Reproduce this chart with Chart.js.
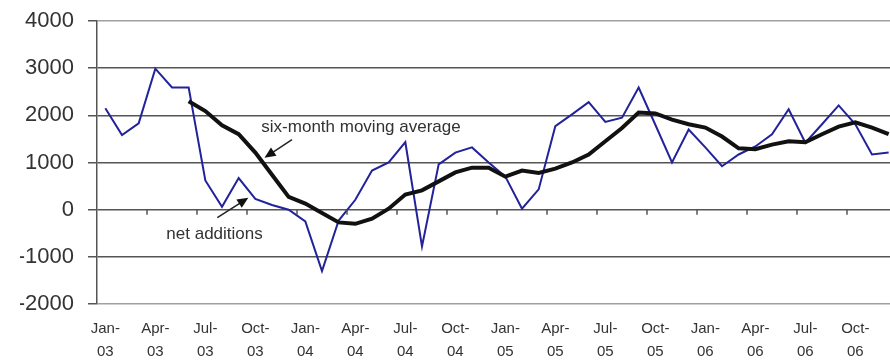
<!DOCTYPE html>
<html>
<head>
<meta charset="utf-8">
<script src="https://cdn.jsdelivr.net/npm/chart.js@4/dist/chart.umd.min.js"></script>
<style>
  html, body { margin: 0; padding: 0; background: #fff; overflow: hidden; }
  #wrap { position: absolute; left: 0; top: 0; width: 898px; height: 362px; }
</style>
</head>
<body>
<div id="wrap"><canvas id="myChart"></canvas></div>
<script>
// months on the category axis
const months = [
  'Jan-03','Feb-03','Mar-03','Apr-03','May-03','Jun-03','Jul-03','Aug-03','Sep-03','Oct-03','Nov-03','Dec-03',
  'Jan-04','Feb-04','Mar-04','Apr-04','May-04','Jun-04','Jul-04','Aug-04','Sep-04','Oct-04','Nov-04','Dec-04',
  'Jan-05','Feb-05','Mar-05','Apr-05','May-05','Jun-05','Jul-05','Aug-05','Sep-05','Oct-05','Nov-05','Dec-05',
  'Jan-06','Feb-06','Mar-06','Apr-06','May-06','Jun-06','Jul-06','Aug-06','Sep-06','Oct-06','Nov-06','Dec-06'
];

// monthly net additions
const netAdditions = [
  2150, 1580, 1830, 2990, 2590, 2590, 620, 60, 670, 230, 100, 0,
  -250, -1300, -230, 210, 830, 1000, 1430, -780, 960, 1210, 1320, 1000,
  700, 20, 430, 1770, 2020, 2280, 1860, 1950, 2590, 1800, 1000, 1700,
  1320, 920, 1170, 1340, 1600, 2130, 1420, 1810, 2210, 1810, 1170, 1210
];

// six-month moving average (starts in June 2003)
const movingAvg = [
  null, null, null, null, null, 2300, 2090, 1790, 1600, 1210, 740, 270,
  130, -70, -270, -300, -190, 20, 320, 410, 600, 790, 890, 890,
  700, 830, 780, 870, 1000, 1170, 1450, 1730, 2060, 2040, 1910, 1810,
  1740, 1550, 1300, 1280, 1380, 1450, 1430, 1600, 1760, 1850, 1740, 1600
];

const yTicks = [-2000, -1000, 0, 1000, 2000, 3000, 4000];

// callout texts and arrows, placed in data units (category index, value)
const callouts = [
  { text: 'six-month moving average', x: 9.36, y: 1745, from: [11.2, 1484], to: [9.55, 1102] },
  { text: 'net additions', x: 3.66, y: -530, from: [6.72, -170], to: [8.58, 254] }
];

const FONT = "'Liberation Sans', Arial, sans-serif";

// small tick marks on the zero line, one every quarter
const zeroTicks = {
  id: 'zeroTicks',
  afterDraw(chart) {
    const ctx = chart.ctx;
    const x = chart.scales.x;
    const y0 = chart.scales.y.getPixelForValue(0);
    const half = (x.getPixelForValue(1) - x.getPixelForValue(0)) / 2;
    ctx.save();
    ctx.strokeStyle = '#555';
    ctx.lineWidth = 1.5;
    for (let k = 3; k < months.length; k += 3) {
      const px = x.getPixelForValue(k) - half;
      ctx.beginPath();
      ctx.moveTo(px, y0);
      ctx.lineTo(px, y0 + 5);
      ctx.stroke();
    }
    ctx.restore();
  }
};

// text labels with arrows pointing at the lines
const calloutPlugin = {
  id: 'callouts',
  afterDatasetsDraw(chart) {
    const ctx = chart.ctx;
    const sx = chart.scales.x, sy = chart.scales.y;
    ctx.save();
    ctx.font = '17px ' + FONT;
    ctx.textBaseline = 'middle';
    for (const c of callouts) {
      ctx.fillStyle = '#333';
      ctx.fillText(c.text, sx.getPixelForValue(c.x), sy.getPixelForValue(c.y));
      const x1 = sx.getPixelForValue(c.from[0]), y1 = sy.getPixelForValue(c.from[1]);
      const x2 = sx.getPixelForValue(c.to[0]), y2 = sy.getPixelForValue(c.to[1]);
      const a = Math.atan2(y2 - y1, x2 - x1);
      ctx.strokeStyle = '#222';
      ctx.lineWidth = 1.5;
      ctx.beginPath();
      ctx.moveTo(x1, y1);
      ctx.lineTo(x2 - 8 * Math.cos(a), y2 - 8 * Math.sin(a));
      ctx.stroke();
      ctx.fillStyle = '#111';
      ctx.beginPath();
      ctx.moveTo(x2, y2);
      ctx.lineTo(x2 - 11 * Math.cos(a) + 5 * Math.sin(a), y2 - 11 * Math.sin(a) - 5 * Math.cos(a));
      ctx.lineTo(x2 - 11 * Math.cos(a) - 5 * Math.sin(a), y2 - 11 * Math.sin(a) + 5 * Math.cos(a));
      ctx.closePath();
      ctx.fill();
    }
    ctx.restore();
  }
};

const ctx = document.getElementById('myChart').getContext('2d');
const myChart = new Chart(ctx, {
  type: 'line',
  data: {
    labels: months,
    datasets: [
      {
        label: 'net additions',
        data: netAdditions,
        borderColor: '#22229a',
        borderWidth: 2,
        pointRadius: 0,
        tension: 0,
        order: 2
      },
      {
        label: 'six-month moving average',
        data: movingAvg,
        borderColor: '#111',
        borderWidth: 4,
        pointRadius: 0,
        tension: 0,
        order: 1
      }
    ]
  },
  options: {
    responsive: true,
    maintainAspectRatio: false,
    animation: false,
    layout: { autoPadding: false, padding: { left: 20, top: 21, right: 1, bottom: 3 } },
    plugins: {
      legend: { display: false },
      tooltip: { enabled: false }
    },
    scales: {
      x: {
        type: 'category',
        offset: true,
        afterFit: function(scale) { scale.height = 55; },
        grid: { display: false },
        border: { display: false },
        ticks: {
          autoSkip: false,
          maxRotation: 0,
          padding: 6,
          color: '#333',
          font: { family: FONT, size: 15, lineHeight: 1.5 },
          callback: function(value, index) {
            if (index % 3 !== 0) return '';
            const m = months[index];
            return [m.slice(0, 4), m.slice(4)];
          }
        }
      },
      y: {
        min: -2000,
        max: 4000,
        afterFit: function(scale) {
          scale.width = 77;
          scale.paddingTop = 0;
          scale.paddingBottom = 0;
        },
        afterBuildTicks: function(scale) {
          scale.ticks = yTicks.map(v => ({ value: v }));
        },
        grid: {
          color: function(c) {
            const v = c.tick ? c.tick.value : 0;
            return (v === 4000 || v === -2000) ? '#a0a0a0' : '#555';
          },
          tickColor: '#555',
          lineWidth: 1.5,
          tickLength: 9
        },
        border: { display: true, color: '#555', width: 1.5 },
        ticks: {
          padding: 14,
          color: '#333',
          font: { family: FONT, size: 22 },
          callback: v => String(v)
        }
      }
    }
  },
  plugins: [zeroTicks, calloutPlugin]
});
</script>
</body>
</html>
